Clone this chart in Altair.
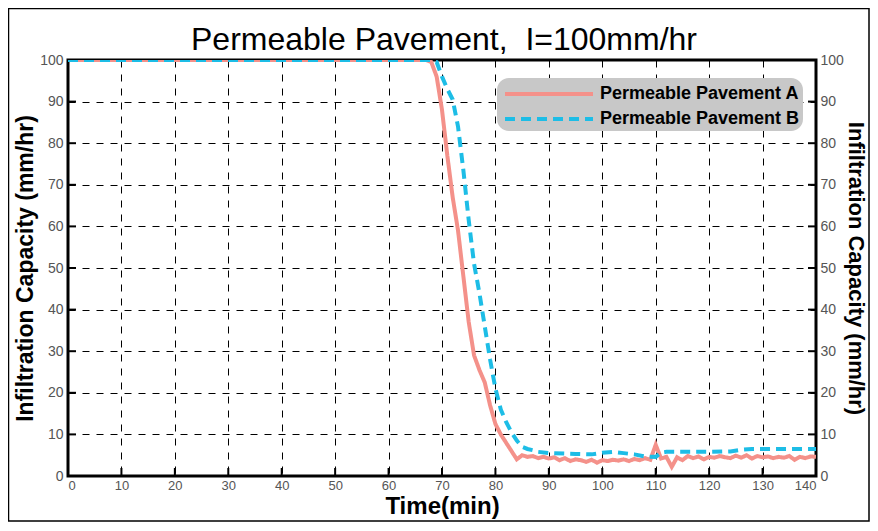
import altair as alt
import pandas as pd

# ---- data ----
a_time = [0, 67, 68, 69, 70, 71, 72, 73, 74, 75, 76, 77, 78, 79, 80, 81, 82, 83,
          84, 85, 86, 87, 88, 89, 90, 91, 92, 93, 94, 95, 96, 97, 98, 99, 100,
          101, 102, 103, 104, 105, 106, 107, 108, 109, 110, 111, 112, 113, 114,
          115, 116, 117, 118, 119, 120, 121, 122, 123, 124, 125, 126, 127, 128,
          129, 130, 131, 132, 133, 134, 135, 136, 137, 138, 139, 140]
a_val = [100, 100, 99.5, 96, 88, 77, 67, 59, 48, 37, 29, 25.5, 22.5, 17, 12.5, 10, 8, 6,
         4.0, 5.0, 4.6, 4.8, 4.3, 4.6, 4.2, 4.5, 3.8, 4.3, 3.6, 4.0, 3.8, 3.4, 3.9, 3.2, 3.8,
         3.6, 3.9, 3.7, 4.0, 3.6, 4.1, 3.8, 4.3, 3.9, 7.5, 4.2, 4.6, 2.2, 4.5,
         3.8, 4.8, 4.3, 4.7, 4.0, 4.6, 4.4, 4.8, 4.5, 4.3, 4.9, 4.4, 5.0, 4.2,
         4.8, 4.5, 4.7, 4.3, 4.6, 4.4, 4.8, 3.9, 4.6, 4.3, 4.7, 4.6]

b_time = [0, 68, 69, 70, 71, 72, 73, 74, 75, 76, 77, 78, 79, 80, 81, 82, 83, 84, 85,
          86, 87, 88, 90, 95, 98, 100, 102, 104, 106, 108, 110, 111, 112, 120, 124,
          126, 128, 140]
b_val = [100, 100, 99.5, 96, 93, 90.5, 84, 73.5, 61.5, 51, 44, 36, 28, 21, 16, 13, 10.5, 8.5, 7,
         6.5, 6.2, 5.8, 5.5, 5.3, 5.2, 5.6, 5.8, 5.5, 5.2, 4.7, 4.6, 5.6, 5.8, 5.8, 5.9,
         6.3, 6.5, 6.5]

series_names = ["Permeable Pavement A", "Permeable Pavement B"]
y_ticks = [0, 10, 20, 30, 40, 50, 60, 70, 80, 90, 100]
x_ticks = [0, 10, 20, 30, 40, 50, 60, 70, 80, 90, 100, 110, 120, 130, 140]
title_text = "Permeable Pavement,\u00a0 I=100mm/hr"

df = pd.concat([
    pd.DataFrame({"time": a_time, "value": a_val, "series": series_names[0]}),
    pd.DataFrame({"time": b_time, "value": b_val, "series": series_names[1]}),
])
ydf = pd.DataFrame({"v": y_ticks})
xdf = pd.DataFrame({"t": x_ticks})

W, H = 748, 416
PL, PT, PR, PB = 60, 52, 54, 46
xscale = alt.Scale(domain=[0, 140], nice=False, zero=False)
yscale = alt.Scale(domain=[0, 100], nice=False)

label_font = "Liberation Sans Narrow, Liberation Sans, Arial"

lines = alt.Chart(df).mark_line(strokeWidth=4, clip=True).encode(
    x=alt.X("time:Q", scale=xscale,
            axis=alt.Axis(values=x_ticks, title="Time(min)", grid=True,
                          gridDash=[7, 7], gridColor="black", gridWidth=1,
                          ticks=False, domain=False, labelPadding=3,
                          labelFontSize=13, titlePadding=2, titleFontSize=24)),
    y=alt.Y("value:Q", scale=yscale,
            axis=alt.Axis(values=y_ticks, title="Infiltration Capacity (mm/hr)",
                          orient="left", grid=True, gridDash=[7, 7],
                          gridColor="black", gridWidth=1, ticks=False,
                          domain=False, labelPadding=5, titlePadding=2)),
    color=alt.Color("series:N",
                    scale=alt.Scale(domain=series_names, range=["#F4918A", "#1DBDE6"]),
                    legend=alt.Legend(title=None, orient="none", legendX=429, legendY=18,
                                      fillColor="#C8C8C8", cornerRadius=12,
                                      padding=3, symbolType="M-4,0H4",
                                      symbolSize=484, symbolStrokeWidth=4,
                                      symbolOffset=36,
                                      labelFontSize=18, labelFontWeight="bold",
                                      labelColor="black", labelFont="Liberation Sans, Arial",
                                      labelLimit=400, rowPadding=3, labelOffset=38)),
    strokeDash=alt.StrokeDash("series:N",
                              scale=alt.Scale(domain=series_names, range=[[1, 0], [10, 6]]),
                              legend=alt.Legend(title=None, orient="none", legendX=429, legendY=18)),
)

right_axis = alt.Chart(ydf).mark_point(opacity=0).encode(
    y=alt.Y("v:Q", scale=yscale,
            axis=alt.Axis(values=y_ticks, orient="right",
                          title="Infiltration Capacity (mm/hr)", grid=False,
                          ticks=False, domain=False, labelPadding=4,
                          titlePadding=0, titleFontSize=22)),
    x=alt.value(W),
)

left_ticks = alt.Chart(ydf).mark_rule(color="black", strokeWidth=2).encode(
    y=alt.Y("v:Q", scale=yscale), x=alt.value(0), x2=alt.value(8))
right_ticks = alt.Chart(ydf).mark_rule(color="black", strokeWidth=2).encode(
    y=alt.Y("v:Q", scale=yscale), x=alt.value(W - 8), x2=alt.value(W))
bottom_ticks = alt.Chart(xdf).mark_rule(color="black", strokeWidth=2).encode(
    x=alt.X("t:Q", scale=xscale), y=alt.value(H - 8), y2=alt.value(H))

frame = alt.Chart(ydf.head(1)).mark_rect(fill=None, stroke="black", strokeWidth=1.5).encode(
    x=alt.value(-PL + 0.5), x2=alt.value(W + PR - 1), y=alt.value(-PT + 0.5), y2=alt.value(H + PB - 1))

title = alt.Chart(ydf.head(1)).mark_text(
    fontSize=32, font=label_font, color="black", baseline="middle", align="center"
).encode(x=alt.value(W / 2 + 2), y=alt.value(-20), text=alt.value(title_text))

left = alt.layer(left_ticks, right_ticks, bottom_ticks, lines, frame, title)

chart = alt.layer(left, right_axis).resolve_scale(y="independent").properties(
    width=W, height=H,
    padding={"left": PL, "top": PT, "right": PR, "bottom": PB},
    autosize=alt.AutoSizeParams(type="none"),
    background="white",
).configure_view(stroke="black", strokeWidth=3).configure_axis(
    labelFont=label_font, labelFontSize=14, labelColor="#555555",
    titleFont=label_font, titleFontSize=23, titleFontWeight="bold", titleColor="black",
)

chart.save("out.html", embed_options={"renderer": "svg", "actions": False})
